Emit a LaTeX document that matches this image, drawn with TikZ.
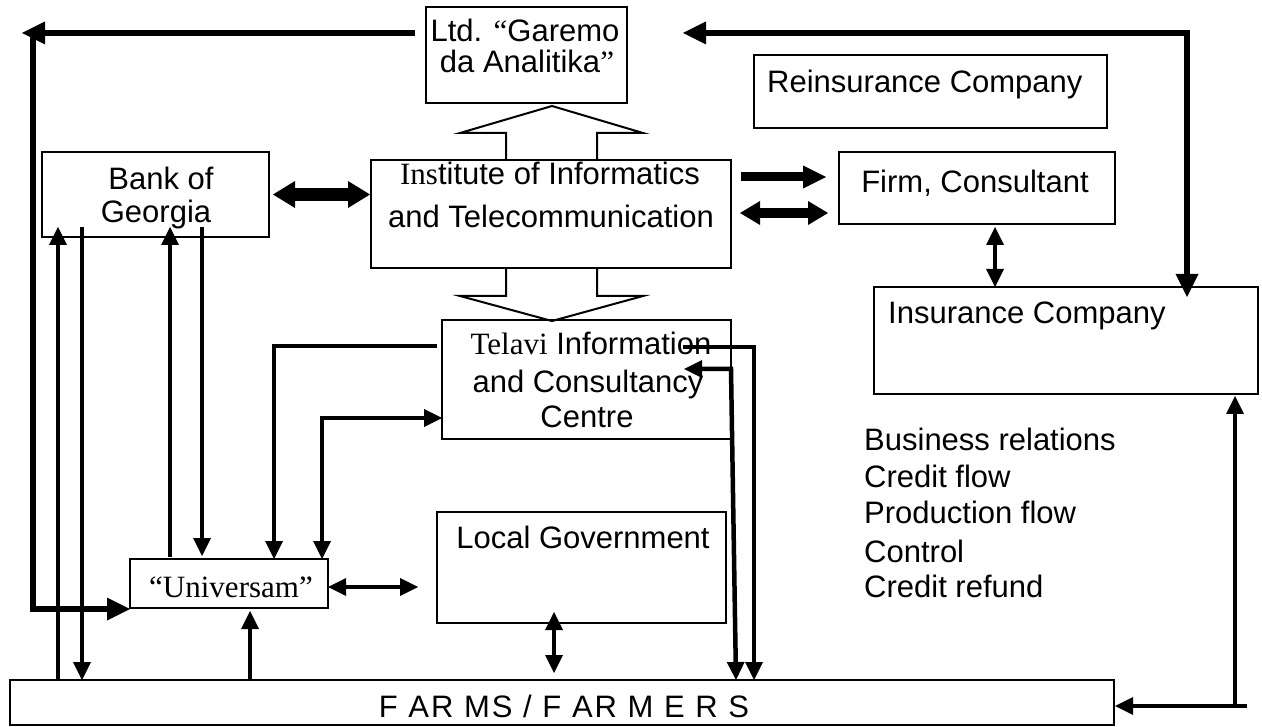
\documentclass[tikz,border=0pt]{standalone}
\usepackage{fontspec}
\setmainfont{Liberation Sans}
\newfontfamily\tms{Liberation Serif}
\usetikzlibrary{arrows.meta,calc}
\begin{document}
\begin{tikzpicture}[x=1pt,y=-1pt,
  box/.style={draw,line width=2pt,inner sep=0pt,outer sep=0pt,anchor=north west},
  txt/.style={inner sep=0pt,anchor=base,font=\fontsize{31}{37}\selectfont},
  txtl/.style={txt,anchor=base west},
  conn/.style={line width=4.5pt},
  heavy/.style={line width=6pt},
  hollow/.style={line width=2pt,line join=miter},
  >={Triangle[length=18pt,width=18pt,line width=0pt]},
  big/.style={>={Triangle[length=23pt,width=23pt,line width=0pt]}},
]
\fill[white] (0,0) rectangle (1262,727);
\useasboundingbox (0,0) rectangle (1262,727);

% ---------- boxes ----------
\node[box,minimum width=201pt,minimum height=96pt]  (garemo)   at (426,7)   {};
\node[box,minimum width=353pt,minimum height=73pt]  (reins)    at (754,55)  {};
\node[box,minimum width=227pt,minimum height=85pt]  (bank)     at (42,152)  {};
\node[box,minimum width=360pt,minimum height=108pt] (inst)     at (371,160) {};
\node[box,minimum width=276pt,minimum height=72pt]  (firm)     at (839,152) {};
\node[box,minimum width=384pt,minimum height=107pt] (insur)    at (874,287) {};
\node[box,minimum width=289pt,minimum height=119pt] (telavi)   at (442,320) {};
\node[box,minimum width=289pt,minimum height=111pt] (localgov) at (437,512) {};
\node[box,minimum width=198pt,minimum height=49pt]  (univ)     at (130,559) {};
\node[box,minimum width=1104pt,minimum height=45pt] (farms)    at (10,680)  {};

% ---------- texts ----------
\node[txt] (garemoA) at (525,42) {Ltd. {\tms “}Garemo};
\node[txt] (garemoB) at (527,73) {da Analitika{\tms ”}};
\node[txtl] (reinsT) at (767,93) {Reinsurance Company};
\node[txt] (bankA) at (161,190) {Bank of};
\node[txt] (bankB) at (156,223) {Georgia};
\node[txt] (instA) at (550,185) {{\tms Ins}titute of Informatics};
\node[txt] (instB) at (551,228) {and Telecommunication};
\node[txt] (firmT) at (975,193) {Firm, Consultant};
\node[txtl] (insurT) at (888,324) {Insurance Company};
\node[txt] (telA) at (591,355) {{\tms Telavi} Information};
\node[txt] (telB) at (588,393) {and Consultancy};
\node[txt] (telC) at (587,428) {Centre};
\node[txt] (locT) at (583,548) {Local Government};
\node[txt,font=\fontsize{31}{37}\selectfont\tms] (univT) at (231,597) {“Universam”};
\node[txt,font=\fontsize{31}{37}\selectfont\addfontfeatures{LetterSpace=6.5}] (farmsT) at (564,717) {F AR MS / F AR M E R S};
\node[txtl] (leg1) at (864,450) {Business relations};
\node[txtl] (leg2) at (864,487) {Credit flow};
\node[txtl] (leg3) at (864,523) {Production flow};
\node[txtl] (leg4) at (864,562) {Control};
\node[txtl] (leg5) at (864,597) {Credit refund};

% ---------- hollow block arrows ----------
\draw[hollow] (inst.north -| 506,0) -- (506,133) -- (460,133) -- (552,106) -- (643,133) -- (597,133) -- (inst.north -| 597,0);
\draw[hollow] (inst.south -| 506,0) -- (506,296) -- (460,296) -- (552,321) -- (643,296) -- (597,296) -- (inst.south -| 597,0);

% ---------- heavy outer connectors ----------
\coordinate (gOut) at (415,33);
\coordinate (tlTip) at (22,33);
\coordinate (tlCorner) at (33,30);
\draw[heavy,big,->] (gOut) -- (tlTip);
\draw[heavy,big,->] (tlCorner) |- (univ.west |- 0,609);
\coordinate (trLeft) at (683,33);
\draw[heavy,big,<->] (trLeft) -| ($(insur.north -| 1187,0)+(0,10)$);

% ---------- Bank <-> Institute ----------
\draw[line width=13pt,{Triangle[length=22pt,width=27pt,line width=0pt]}-{Triangle[length=22pt,width=27pt,line width=0pt]}]
  ($(bank.east)+(4,0)$) -- ($(inst.west |- bank.east)+(-1,0)$);

% ---------- Institute <-> Firm ----------
\draw[line width=9pt,-{Triangle[length=23pt,width=23pt,line width=0pt]}]
  ($(inst.east |- 0,177)+(10,0)$) -- ($(firm.west |- 0,177)+(-13,0)$);
\draw[line width=10pt,{Triangle[length=20pt,width=24pt,line width=0pt]}-{Triangle[length=20pt,width=24pt,line width=0pt]}]
  ($(inst.east |- 0,213)+(9,0)$) -- ($(firm.west |- 0,213)+(-11,0)$);

% ---------- Firm <-> Insurance ----------
\draw[conn,<->] ($(firm.south -| 995,0)+(0,3)$) -- (insur.north -| 995,0);

% ---------- Bank / Farms / Universam ----------
\draw[conn,->] (farms.north -| 58,0) -- ($(bank.south -| 58,0)+(0,-10)$);
\draw[conn,->] ($(bank.south -| 82,0)+(0,-10)$) -- (farms.north -| 82,0);
\draw[conn,->] ($(univ.north -| 170,0)+(0,-2)$) -- ($(bank.south -| 170,0)+(0,-10)$);
\draw[conn,->] ($(bank.south -| 202,0)+(0,-10)$) -- ($(univ.north -| 202,0)+(0,-3)$);
\draw[conn,->] (farms.north -| 250,0) -- ($(univ.south -| 250,0)+(0,3)$);

% ---------- Telavi / Universam ----------
\draw[conn,->] ($(telavi.west |- 0,346)+(-5,0)$) -| (univ.north -| 274,0);
\draw[conn,<->] (univ.north -| 322,0) |- (telavi.west |- 0,418);
\draw[conn,<->] (univ.east |- 0,587) -- ($(localgov.west |- 0,587)+(-19,0)$);

% ---------- Local Government <-> Farms ----------
\draw[conn,<->] ($(localgov.south -| 554,0)+(0,-11)$) -- ($(farms.north -| 554,0)+(0,-7)$);

% ---------- Telavi -> Farms ----------
\coordinate (telIn) at (683,347);
\draw[conn,->] (telIn) -| (farms.north -| 754,0);
\coordinate (telArr) at (684,369);
\draw[conn,<->] (telArr) -- (telavi.east |- 0,369) -- (farms.north -| 736,0);

% ---------- Insurance / Farms ----------
\coordinate (irCorner) at (1247,706);
\draw[conn,->] (irCorner) -- ($(farms.east |- 0,706)+(1,0)$);
\draw[conn,->] (1235,706) -- ($(insur.south -| 1235,0)+(0,2)$);
\end{tikzpicture}
\end{document}
